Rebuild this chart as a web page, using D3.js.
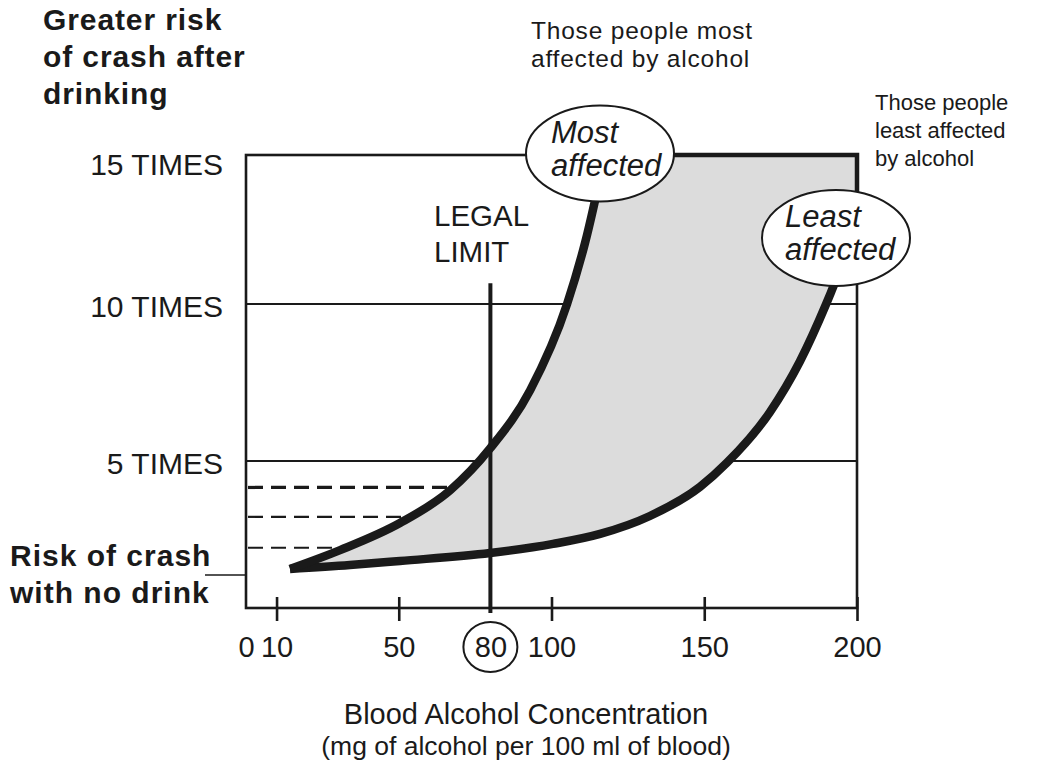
<!DOCTYPE html>
<html>
<head>
<meta charset="utf-8">
<script src="https://cdn.jsdelivr.net/npm/d3@7"></script>
<style>
body { margin:0; background:#fff; }
text { font-family: "Liberation Sans", Arial, Helvetica, sans-serif; fill:#1a1a1a; }
</style>
</head>
<body>
<div id="chart"></div>
<script>

// x axis: blood alcohol (mg / 100 ml)
var bacTicks  = [10, 50, 100, 150, 200];
var bacLabels = [0, 10, 50, 80, 100, 150, 200];
var legalLimit = 80;
var legalTop = 10.7;

// y axis: times the risk of a crash
var riskGrid   = [5, 10];
var riskValues = [5, 10, 15];
var riskLabels = ["5 TIMES", "10 TIMES", "15 TIMES"];

// most affected drinkers
var mostBac  = [14.4, 30.8, 50.4, 66.8, 79.9, 93.0, 105.1, 111.0, 117.5];
var mostRisk = [1.33, 1.97, 2.89, 4.00, 5.40, 7.25, 10.0, 12.06, 15];

// least affected drinkers
var leastBac  = [14.4, 34.0, 50.4, 79.9, 100.5, 115.9, 132.2, 148.6, 157.4, 171.5, 181.3, 189.9, 191.8, 200];
var leastRisk = [1.33, 1.46, 1.60, 1.87, 2.18, 2.52, 3.13, 4.12, 4.94, 6.56, 8.17, 10, 10.47, 12.55];

// dashed read-offs from the most affected curve
var dashRisk = [4.1, 3.1, 2.05];
var dashEnd  = [67, 52, 31];

var most  = mostBac.map(function(d, i) { return { x: d, y: mostRisk[i] }; });
var least = leastBac.map(function(d, i) { return { x: d, y: leastRisk[i] }; });

var ink = "#1a1a1a";

var x = d3.scaleLinear().domain([0, 200]).range([246, 857]);
var y = d3.scaleLinear().domain([0, 5, 10, 15]).range([608, 461, 304, 155]);

var svg = d3.select("#chart").append("svg")
	.attr("width", 1038)
	.attr("height", 760);

var line = d3.line()
	.x(function(d) { return x(d.x); })
	.y(function(d) { return y(d.y); })
	.curve(d3.curveMonotoneX);

// grid lines
svg.selectAll(".grid").data(riskGrid).enter().append("line")
	.attr("class", "grid")
	.attr("x1", x(0)).attr("x2", x(200))
	.attr("y1", function(d) { return y(d); })
	.attr("y2", function(d) { return y(d); })
	.attr("stroke", ink).attr("stroke-width", 2.2);

// dashed lines
svg.selectAll(".dash").data(dashRisk).enter().append("line")
	.attr("class", "dash")
	.attr("x1", x(0) + 2)
	.attr("x2", function(d, i) { return x(dashEnd[i]); })
	.attr("y1", function(d) { return y(d); })
	.attr("y2", function(d) { return y(d); })
	.attr("stroke", ink)
	.attr("stroke-width", function(d, i) { return i == 0 ? 3.2 : 2.2; })
	.attr("stroke-dasharray", "15,8");

// shaded band between the curves
var clipD = line(most)
	+ "L" + (x(200) + 10) + "," + y(15)
	+ "L" + (x(200) + 10) + "," + (y(0) + 10)
	+ "L" + x(most[0].x) + "," + (y(0) + 10) + "Z";

svg.append("clipPath").attr("id", "band")
	.append("path").attr("d", clipD);

var area = d3.area()
	.x(function(d) { return x(d.x); })
	.y0(y(15))
	.y1(function(d) { return y(d.y); })
	.curve(d3.curveMonotoneX);

svg.append("path").datum(least)
	.attr("d", area)
	.attr("clip-path", "url(#band)")
	.attr("fill", "#dcdcdc");

// legal limit
svg.append("line")
	.attr("x1", x(legalLimit)).attr("x2", x(legalLimit))
	.attr("y1", y(legalTop)).attr("y2", y(0) + 5)
	.attr("stroke", ink).attr("stroke-width", 4);

// frame
svg.append("rect")
	.attr("x", x(0)).attr("y", y(15))
	.attr("width", x(200) - x(0)).attr("height", y(0) - y(15))
	.attr("fill", "none").attr("stroke", ink).attr("stroke-width", 2.6);

svg.append("path")
	.attr("d", "M" + x(most[most.length - 1].x) + "," + y(15)
		+ "L" + x(200) + "," + y(15)
		+ "L" + x(200) + "," + y(least[least.length - 1].y))
	.attr("fill", "none").attr("stroke", ink).attr("stroke-width", 4.5);

// curves
svg.append("path").datum(least)
	.attr("d", line).attr("fill", "none")
	.attr("stroke", ink).attr("stroke-width", 8.5);

svg.append("path").datum(most)
	.attr("d", line).attr("fill", "none")
	.attr("stroke", ink).attr("stroke-width", 8.5);

// x axis
var gx = svg.append("g")
	.attr("transform", "translate(0," + y(0) + ")")
	.call(d3.axisBottom(x).tickValues(bacLabels).tickSize(13).tickFormat(d3.format("d")));

gx.select(".domain").remove();
gx.selectAll(".tick line")
	.attr("y1", -11)
	.attr("stroke", ink).attr("stroke-width", 2.6)
	.style("display", function(d) { return bacTicks.indexOf(d) < 0 ? "none" : null; });
gx.selectAll(".tick text")
	.attr("y", 49).attr("dy", null)
	.attr("font-size", 29);

svg.append("ellipse")
	.attr("cx", x(legalLimit)).attr("cy", y(0) + 39)
	.attr("rx", 27).attr("ry", 25)
	.attr("fill", "none").attr("stroke", ink).attr("stroke-width", 2);

// y labels
svg.selectAll(".ylab").data(riskValues).enter().append("text")
	.attr("class", "ylab")
	.attr("x", x(0) - 23)
	.attr("y", function(d) { return Math.max(y(d) + 12.5, y(15) + 20); })
	.attr("text-anchor", "end")
	.attr("font-size", 30)
	.text(function(d, i) { return riskLabels[i]; });

// ovals
function oval(cx, cy, lines, tx) {
	svg.append("ellipse")
		.attr("cx", cx).attr("cy", cy)
		.attr("rx", 74).attr("ry", 48)
		.attr("fill", "#fff").attr("stroke", ink).attr("stroke-width", 2);
	svg.append("text")
		.attr("font-size", 31).attr("font-style", "italic")
		.selectAll("tspan").data(lines).enter().append("tspan")
		.attr("x", tx)
		.attr("y", function(d, i) { return cy - 11 + i * 33; })
		.text(function(d) { return d; });
}
oval(600, 153.5, ["Most", "affected"], 551);
oval(836, 238, ["Least", "affected"], 785);

// text blocks, one text per line
function block(tx, ty, step, size, weight, lines, anchor, spacing) {
	svg.append("g").selectAll("text").data(lines).enter().append("text")
		.attr("font-size", size).attr("font-weight", weight)
		.attr("letter-spacing", spacing || 0)
		.attr("text-anchor", anchor || "start")
		.attr("x", tx)
		.attr("y", function(d, i) { return ty + i * step; })
		.text(function(d) { return d; });
}

block(43, 30, 37, 30, "bold", ["Greater risk", "of crash after", "drinking"], "start", 0.9);
block(10, 566, 37, 30, "bold", ["Risk of crash", "with no drink"], "start", 1);
block(531, 39, 28, 24.5, "normal", ["Those people most", "affected by alcohol"], "start", 0.8);
block(875, 110, 28, 22, "normal", ["Those people", "least affected", "by alcohol"]);
block(434, 226, 36, 29.5, "normal", ["LEGAL", "LIMIT"]);
block(526, 724, 0, 29, "normal", ["Blood Alcohol Concentration"], "middle");
block(526, 755, 0, 26.5, "normal", ["(mg of alcohol per 100 ml of blood)"], "middle");

svg.append("line")
	.attr("x1", 205).attr("x2", x(0))
	.attr("y1", 575).attr("y2", 575)
	.attr("stroke", ink).attr("stroke-width", 1.6);

</script>
</body>
</html>
